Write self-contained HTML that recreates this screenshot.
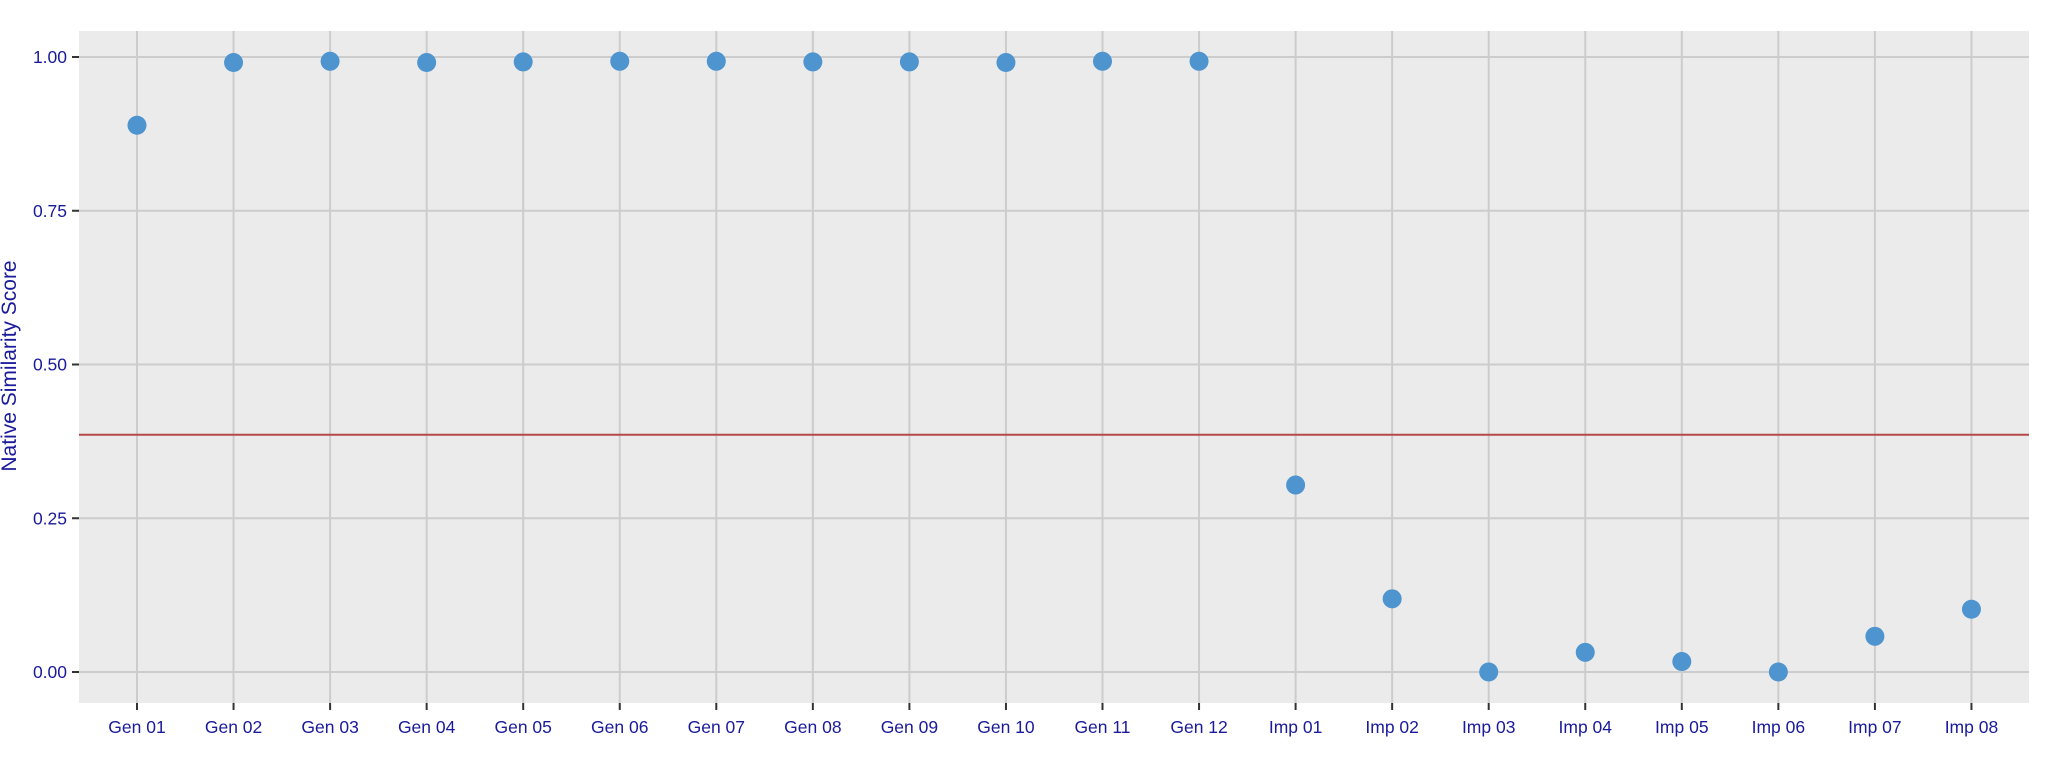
<!DOCTYPE html>
<html><head><meta charset="utf-8"><style>
html,body{margin:0;padding:0;background:#fff;}
svg{display:block;font-family:"Liberation Sans",Arial,sans-serif;}
</style></head><body>
<svg width="2060" height="758" viewBox="0 0 2060 758" xmlns="http://www.w3.org/2000/svg">
<rect x="0" y="0" width="2060" height="758" fill="#fff"/>
<rect x="79" y="31" width="1950" height="672" fill="#ebebeb"/>
<g stroke="#cccccc" stroke-width="2">
<line x1="79" x2="2029" y1="57" y2="57"/>
<line x1="79" x2="2029" y1="210.75" y2="210.75"/>
<line x1="79" x2="2029" y1="364.5" y2="364.5"/>
<line x1="79" x2="2029" y1="518.25" y2="518.25"/>
<line x1="79" x2="2029" y1="672" y2="672"/>
</g>
<g id="vg" stroke="#cccccc" stroke-width="2"></g>
<line x1="79" x2="2029" y1="434.7" y2="434.7" stroke="#b5484a" stroke-width="2"/>
<g id="dots" fill="#4e94cf"></g>
<g stroke="#333" stroke-width="2">
<line x1="72" x2="79" y1="57" y2="57"/>
<line x1="72" x2="79" y1="210.75" y2="210.75"/>
<line x1="72" x2="79" y1="364.5" y2="364.5"/>
<line x1="72" x2="79" y1="518.25" y2="518.25"/>
<line x1="72" x2="79" y1="672" y2="672"/>
</g>
<g id="xt" stroke="#333" stroke-width="2"></g>
<g fill="#1a1a9a" font-size="17.5" text-anchor="end">
<text x="67" y="63">1.00</text>
<text x="67" y="216.75">0.75</text>
<text x="67" y="370.5">0.50</text>
<text x="67" y="524.25">0.25</text>
<text x="67" y="678">0.00</text>
</g>
<text transform="translate(16,366) rotate(-90)" fill="#1a1a9a" font-size="21" text-anchor="middle">Native Similarity Score</text>
<g id="xl" fill="#1a1a9a" font-size="17.5" text-anchor="middle"></g>
</svg>
<script>
var labels=["Gen 01","Gen 02","Gen 03","Gen 04","Gen 05","Gen 06","Gen 07","Gen 08","Gen 09","Gen 10","Gen 11","Gen 12","Imp 01","Imp 02","Imp 03","Imp 04","Imp 05","Imp 06","Imp 07","Imp 08"];
var vals=[0.889,0.991,0.993,0.991,0.992,0.993,0.993,0.992,0.992,0.991,0.993,0.993,0.304,0.119,0.0,0.032,0.017,0.0,0.058,0.102];
var ns="http://www.w3.org/2000/svg";
function el(t,a,p){var e=document.createElementNS(ns,t);for(var k in a)e.setAttribute(k,a[k]);document.getElementById(p).appendChild(e);return e;}
for(var i=0;i<20;i++){
 var x=137+i*96.55;
 el("line",{x1:x,x2:x,y1:31,y2:703},"vg");
 el("line",{x1:x,x2:x,y1:703,y2:710},"xt");
 el("circle",{cx:x,cy:672-615*vals[i],r:9.5},"dots");
 var t=el("text",{x:x,y:733},"xl");t.textContent=labels[i];
}
</script>
</body></html>
